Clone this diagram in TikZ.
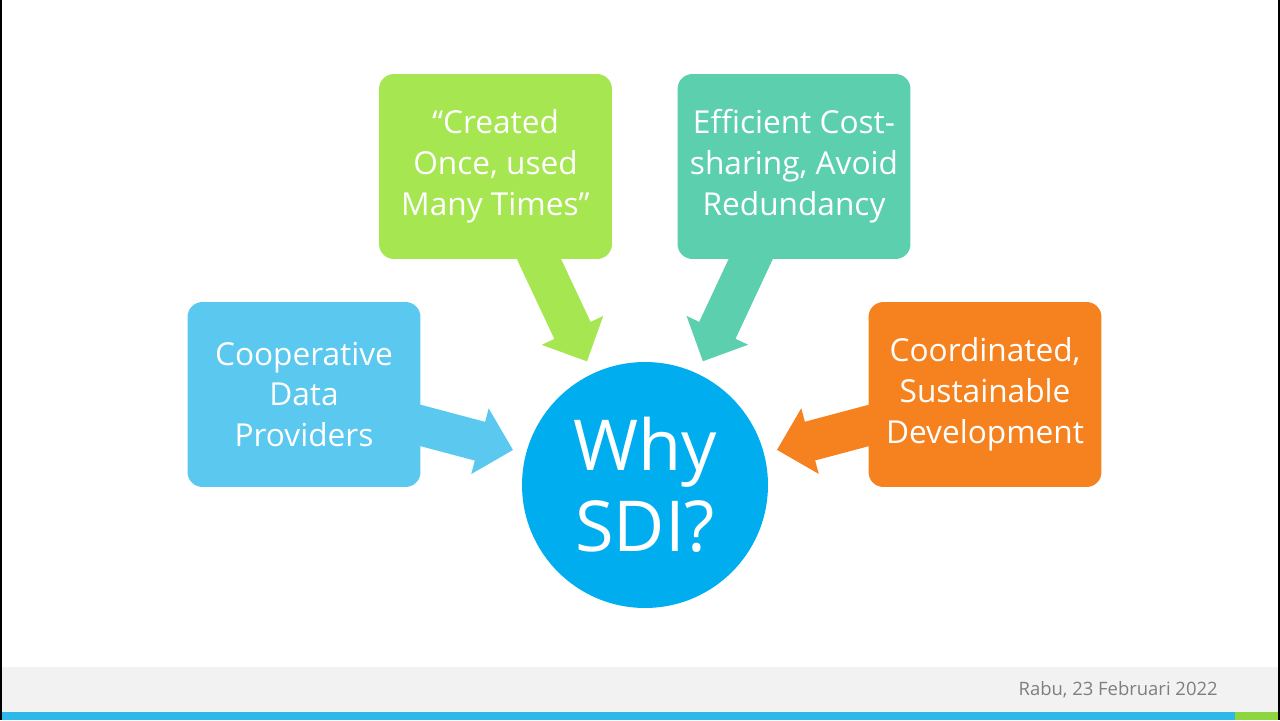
\documentclass[tikz,border=0pt]{standalone}
\usepackage{fontspec}
\setmainfont{Open Sans}
\usepackage{xcolor}
\usetikzlibrary{positioning,arrows.meta,backgrounds}
\definecolor{cdpblue}{HTML}{5BC8F0}
\definecolor{creategreen}{HTML}{A6E651}
\definecolor{costteal}{HTML}{5CCFAE}
\definecolor{coordorange}{HTML}{F5821F}
\definecolor{whyblue}{HTML}{00AEEF}
\definecolor{footgray}{HTML}{F2F2F2}
\definecolor{stripeblue}{HTML}{2DB8EA}
\definecolor{stripegreen}{HTML}{8DD63F}
\definecolor{dategray}{HTML}{7F7F7F}
\tikzset{
  ideabox/.style={rectangle, rounded corners=8.5pt, minimum width=4.66cm, minimum height=3.7cm,
    inner sep=0pt, align=center, text=white, font=\fontsize{18}{23.3}\selectfont},
  pusharrow/.style={line width=22.8pt, -{Triangle[length=19.5pt,width=37.5pt]}, shorten >=7.5pt}
}

\begin{document}
\begin{tikzpicture}[x=0.02cm,y=-0.02cm]
  \useasboundingbox (0,0) rectangle (1280,720);

  % footer band and screen edges
  \fill[footgray] (0,667) rectangle (1280,712);
  \fill[stripeblue] (0,712) rectangle (1235,720);
  \fill[stripegreen] (1235,712) rectangle (1278,720);
  \fill[black] (0,0) rectangle (1.5,720);
  \fill[black] (1278,0) rectangle (1280,720);
  \node[anchor=east, inner sep=0pt, text=dategray, font=\fontsize{10.5}{12}\selectfont] (date) at (1218,690) {Rabu, 23 Februari 2022};

  % idea boxes
  \node[ideabox, fill=cdpblue]     (cdp)   at (304,394.5) {Cooperative\\Data\\Providers};
  \node[ideabox, fill=creategreen] (once)  at (495.5,166.5) {“Created\\Once, used\\Many Times”};
  \node[ideabox, fill=costteal]    (cost)  at (794,166.5) {Efficient Cost-\\sharing, Avoid\\Redundancy};
  \node[ideabox, fill=coordorange] (coord) at (985,394.5) {Coordinated,\\Sustainable\\Development};

  % centre circle
  \node[circle, fill=whyblue, minimum size=4.92cm, inner sep=0pt, align=center, text=white,
    font=\fontsize{40}{46}\selectfont] (why) at (645,485) {Why\\SDI?};

  % block arrows behind the boxes
  \begin{scope}[on background layer]
    \draw[pusharrow, cdpblue]     (cdp.center)   -- (why);
    \draw[pusharrow, creategreen] (once.center)  -- (why);
    \draw[pusharrow, costteal]    (cost.center)  -- (why);
    \draw[pusharrow, coordorange] (coord.center) -- (why);
  \end{scope}
\end{tikzpicture}
\end{document}
